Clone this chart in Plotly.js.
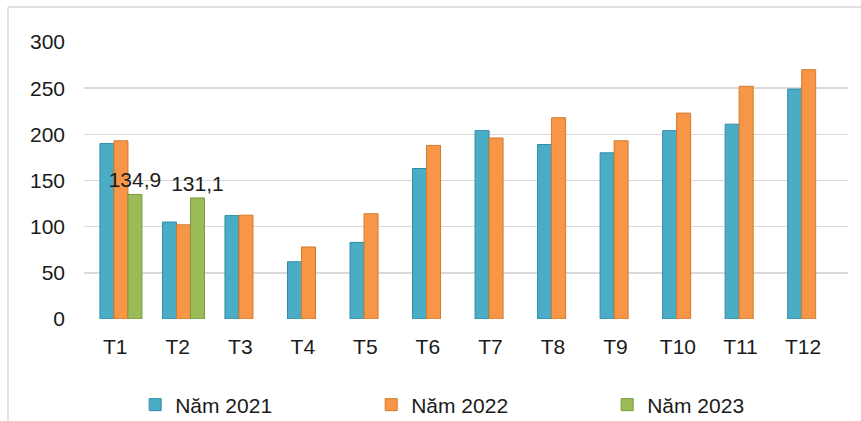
<!DOCTYPE html>
<html>
<head>
<meta charset="utf-8">
<script src="https://cdn.plot.ly/plotly-3.0.1.min.js"></script>
<style>
html,body{margin:0;padding:0;background:#fff;}
#chart{width:861px;height:421px;}
</style>
</head>
<body>
<div id="chart"></div>
<script>
const categories = ['T1','T2','T3','T4','T5','T6','T7','T8','T9','T10','T11','T12'];
const values2021 = [190, 105, 112, 62, 83, 163, 204, 189, 180, 204, 211, 249];
const values2022 = [193, 102, 112.5, 78, 114, 188, 196, 218, 193, 223, 252, 270];
const categories2023 = ['T1','T2'];
const values2023 = [134.9, 131.1];
const seriesNames = ['Năm 2021','Năm 2022','Năm 2023'];
const yTicks = [0, 50, 100, 150, 200, 250, 300];

const fontFamily = '"Liberation Sans", Arial, sans-serif';
const barWidth = 0.224;

const traces = [
  {type:'bar', name:seriesNames[0], x:categories, y:values2021,
   width:barWidth, offset:-0.245,
   marker:{color:'#4BACC6', line:{color:'#2F8CA8', width:1}}, hoverinfo:'skip'},
  {type:'bar', name:seriesNames[1], x:categories, y:values2022,
   width:barWidth, offset:-0.021,
   marker:{color:'#F79646', line:{color:'#D27A2C', width:1}}, hoverinfo:'skip'},
  {type:'bar', name:seriesNames[2], x:categories2023, y:values2023,
   width:barWidth, offset:0.203,
   marker:{color:'#9BBB59', line:{color:'#7A9A3C', width:1}}, hoverinfo:'skip',
   texttemplate:'%{y:.1f}', textposition:'outside', cliponaxis:false,
   constraintext:'none', textangle:0,
   textfont:{family:fontFamily, size:21, color:'#1a1a1a'}}
];

const frameColor = '#d9d9d9';
const layout = {
  width:861, height:421,
  margin:{l:84, r:13, t:42, b:102, autoexpand:false},
  paper_bgcolor:'#ffffff', plot_bgcolor:'#ffffff',
  separators:',.',
  barmode:'group', bargap:0.33, bargroupgap:0,
  font:{family:fontFamily, size:21, color:'#1a1a1a'},
  showlegend:true,
  legend:{orientation:'h', xref:'container', yref:'container',
          x:0.157, xanchor:'left', y:0.038, yanchor:'middle',
          font:{family:fontFamily, size:21, color:'#1a1a1a'},
          entrywidth:191, entrywidthmode:'pixels', itemwidth:30, traceorder:'normal'},
  xaxis:{type:'category', categoryarray:categories, categoryorder:'array',
         range:[-0.5, 11.72], showgrid:false, zeroline:false, showline:false,
         ticks:'', ticklabelstandoff:13, automargin:false,
         tickfont:{family:fontFamily, size:21, color:'#1a1a1a'}},
  yaxis:{range:[0,300], tickvals:yTicks, ticktext:yTicks.map(String),
         showgrid:true, gridcolor:'#d9d9d9', gridwidth:1.5, automargin:false,
         zeroline:false, showline:false, ticks:'', ticklabelstandoff:18,
         tickfont:{family:fontFamily, size:21, color:'#1a1a1a'}},
  shapes:[
    {type:'line', xref:'paper', yref:'paper', x0:-0.0995, x1:-0.0995, y0:1.126, y1:-0.37,
     line:{color:frameColor, width:1.5}},
    {type:'line', xref:'paper', yref:'paper', x0:-0.0995, x1:1.02, y0:1.126, y1:1.126,
     line:{color:frameColor, width:1.5}}
  ]
};

Plotly.newPlot('chart', traces, layout, {displayModeBar:false, staticPlot:true});
</script>
</body>
</html>
